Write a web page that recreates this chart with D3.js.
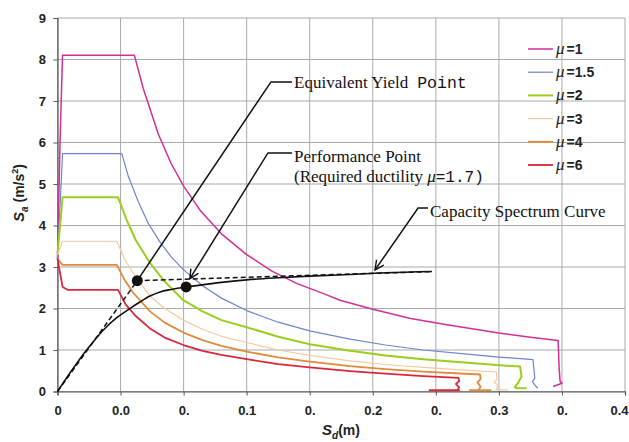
<!DOCTYPE html>
<html>
<head>
<meta charset="utf-8">
<script src="https://cdn.jsdelivr.net/npm/d3@7"></script>
<style>
body { margin: 0; background: #fff; }
svg { display: block; }
</style>
</head>
<body>
<svg id="chart" width="629" height="442"></svg>
<script>
'use strict'

// axis ticks (labels are truncated in the source figure, kept as they are)
const xTicks = [0, 0.05, 0.1, 0.15, 0.2, 0.25, 0.3, 0.35, 0.4, 0.45]
const xTickLabels = ['0', '0.0', '0.', '0.1', '0.', '0.2', '0.', '0.3', '0.', '0.4']
const yTicks = [0, 1, 2, 3, 4, 5, 6, 7, 8, 9]

// demand spectra [Sd (m), Sa (m/s2)]
const mu1 = [[0, 3.2], [0.002, 6.0], [0.004, 8.1], [0.061, 8.1], [0.068, 7.3], [0.08, 6.2], [0.09, 5.5],
    [0.1, 4.95], [0.113, 4.37], [0.13, 3.8], [0.15, 3.3], [0.17, 2.9], [0.19, 2.6], [0.21, 2.37],
    [0.224, 2.2], [0.25, 1.98], [0.28, 1.76], [0.31, 1.6], [0.35, 1.41], [0.375, 1.31], [0.397, 1.23],
    [0.3977, 0.6], [0.3985, 0.25], [0.4, 0.2], [0.393, 0.12]]
const mu15 = [[0, 3.2], [0.004, 5.73], [0.051, 5.73], [0.056, 5.2], [0.064, 4.58], [0.072, 4.05],
    [0.0813, 3.6], [0.09, 3.25], [0.1, 2.93], [0.115, 2.55], [0.13, 2.25], [0.15, 1.95], [0.175, 1.67],
    [0.2, 1.46], [0.232, 1.26], [0.26, 1.12], [0.29, 1.0], [0.325, 0.9], [0.35, 0.83], [0.377, 0.77],
    [0.3785, 0.32], [0.3765, 0.24], [0.3795, 0.12], [0.381, 0.08]]
const mu2 = [[0, 3.3], [0.004, 4.68], [0.048, 4.68], [0.0549, 4.13], [0.062, 3.65], [0.0733, 3.1],
    [0.085, 2.65], [0.0998, 2.2], [0.115, 1.93], [0.13, 1.72], [0.15, 1.55], [0.175, 1.32], [0.2, 1.14],
    [0.232, 0.98], [0.26, 0.87], [0.29, 0.78], [0.325, 0.69], [0.3668, 0.6], [0.368, 0.36],
    [0.3655, 0.22], [0.3625, 0.1], [0.364, 0.08], [0.372, 0.08]]
const mu3 = [[0, 3.29], [0.004, 3.62], [0.047, 3.62], [0.053, 3.2], [0.06, 2.85], [0.0733, 2.3],
    [0.085, 2.0], [0.0998, 1.72], [0.115, 1.5], [0.13, 1.33], [0.15, 1.18], [0.175, 1.0], [0.2, 0.87],
    [0.232, 0.74], [0.26, 0.65], [0.29, 0.58], [0.32, 0.52], [0.348, 0.47], [0.3485, 0.3],
    [0.346, 0.22], [0.3495, 0.15], [0.348, 0.06], [0.3475, 0.04], [0.357, 0.04]]
const mu4 = [[0, 3.2], [0.004, 3.05], [0.047, 3.05], [0.053, 2.7], [0.06, 2.38], [0.0733, 1.93],
    [0.085, 1.66], [0.0998, 1.42], [0.115, 1.24], [0.13, 1.1], [0.15, 0.96], [0.175, 0.82], [0.2, 0.72],
    [0.232, 0.61], [0.26, 0.54], [0.29, 0.48], [0.335, 0.41], [0.3355, 0.3], [0.333, 0.22],
    [0.3355, 0.12], [0.334, 0.04], [0.327, 0.03], [0.344, 0.03]]
const mu6 = [[0, 3.2], [0.004, 2.52], [0.008, 2.45], [0.048, 2.45], [0.054, 2.1], [0.062, 1.82],
    [0.0733, 1.52], [0.085, 1.3], [0.0998, 1.12], [0.115, 0.98], [0.13, 0.88], [0.15, 0.78],
    [0.175, 0.66], [0.2, 0.58], [0.232, 0.49], [0.26, 0.43], [0.29, 0.37], [0.318, 0.33],
    [0.3185, 0.25], [0.316, 0.18], [0.3185, 0.1], [0.317, 0.03], [0.295, 0.03], [0.319, 0.03]]

const seriesData = [mu1, mu15, mu2, mu3, mu4, mu6]
const seriesLabels = ['=1', '=1.5', '=2', '=3', '=4', '=6']
const seriesColors = ['#d12f97', '#6f84cc', '#9acd1e', '#f4c9a3', '#e08a3a', '#d8283c']
const seriesWidths = [1.5, 1.2, 2, 1.2, 1.8, 1.8]

// capacity spectrum and its bilinear idealisation
const capacity = [[0, 0], [0.01, 0.45], [0.0205, 0.9], [0.0284, 1.2], [0.036, 1.47], [0.047, 1.78],
    [0.055, 1.95], [0.065, 2.15], [0.0733, 2.3], [0.0813, 2.4], [0.09, 2.46], [0.102, 2.52],
    [0.115, 2.57], [0.13, 2.63], [0.15, 2.69], [0.175, 2.74], [0.2, 2.78], [0.232, 2.82],
    [0.26, 2.86], [0.297, 2.89]]
const bilinear = [[0, 0], [0.0633, 2.67], [0.297, 2.89]]
const yieldPoint = [0.0633, 2.67]
const perfPoint = [0.102, 2.52]

// leaders: [text anchor, elbow, tip] in data units
const leaderEyp = [[0.186, 7.46], [0.1693, 7.46], [0.065, 2.75]]
const leaderPerf = [[0.186, 5.75], [0.1669, 5.75], [0.105, 2.72]]
const leaderCap = [[0.2938, 4.42], [0.2859, 4.42], [0.2518, 2.93]]

const W = 629
const H = 442
const margin = { top: 18, right: 4, bottom: 50.5, left: 57.5 }

const svg = d3.select('#chart')

const x = d3.scaleLinear().domain([0, 0.45]).range([margin.left, W - margin.right])
const y = d3.scaleLinear().domain([0, 9]).range([H - margin.bottom, margin.top])

const sans = 'Liberation Sans, Arial, sans-serif'
const serif = 'Liberation Serif, Times New Roman, serif'
const mono = 'Liberation Mono, Courier New, monospace'

svg.append('rect').attr('width', W).attr('height', H).attr('fill', '#fff')

const defs = svg.append('defs')
defs.append('marker')
    .attr('id', 'vhead')
    .attr('markerWidth', 12)
    .attr('markerHeight', 12)
    .attr('refX', 10)
    .attr('refY', 5)
    .attr('orient', 'auto')
    .attr('markerUnits', 'userSpaceOnUse')
    .append('path')
    .attr('d', 'M 1,0.5 L 10,5 L 1,9.5')
    .attr('fill', 'none')
    .attr('stroke', '#111')
    .attr('stroke-width', 1.4)

// grid
const grid = svg.append('g')
grid.selectAll('line.v')
    .data(xTicks)
    .join('line')
    .attr('class', 'v')
    .attr('x1', d => x(d)).attr('x2', d => x(d))
    .attr('y1', y(0)).attr('y2', y(9))
    .attr('stroke', '#a9a9a9')
    .attr('stroke-width', 1)
grid.selectAll('line.h')
    .data(yTicks)
    .join('line')
    .attr('class', 'h')
    .attr('x1', x(0)).attr('x2', x(0.45))
    .attr('y1', d => y(d)).attr('y2', d => y(d))
    .attr('stroke', '#a9a9a9')
    .attr('stroke-width', 1)

// axes
const xAxis = svg.append('g')
    .attr('transform', `translate(0,${y(0)})`)
    .call(d3.axisBottom(x).tickValues(xTicks).tickSize(4).tickFormat((d, i) => xTickLabels[i]))
const yAxis = svg.append('g')
    .attr('transform', `translate(${x(0)},0)`)
    .call(d3.axisLeft(y).tickValues(yTicks).tickSize(4).tickFormat(d3.format('d')))

for (const ax of [xAxis, yAxis]) {
    ax.select('.domain').attr('stroke', '#555').attr('stroke-width', 1.2)
    ax.selectAll('.tick line').attr('stroke', '#555')
    ax.selectAll('.tick text')
        .attr('fill', '#222')
        .style('font-family', sans)
        .style('font-size', '13px')
        .style('font-weight', 'bold')
}
xAxis.selectAll('.tick text').attr('dy', '1.25em')
yAxis.selectAll('.tick text').attr('dx', '-0.35em')
// last label sits on the right edge of the figure
xAxis.selectAll('.tick text')
    .filter((d, i) => i == xTicks.length - 1)
    .attr('text-anchor', 'end')
    .attr('dx', 3)

// axis titles
const ytitle = svg.append('text')
    .attr('transform', 'translate(24,193) rotate(-90)')
    .attr('text-anchor', 'middle')
    .attr('fill', '#222')
    .style('font-family', sans)
    .style('font-weight', 'bold')
    .style('font-size', '14px')
ytitle.append('tspan').text('S').style('font-style', 'italic').style('font-size', '15px')
ytitle.append('tspan').text('a').attr('dy', 4).style('font-size', '10px').style('font-style', 'italic')
ytitle.append('tspan').text(' (m/s').attr('dy', -4)
ytitle.append('tspan').text('2').attr('dy', -6).style('font-size', '9px')
ytitle.append('tspan').text(')').attr('dy', 6)

const xtitle = svg.append('text')
    .attr('x', 341)
    .attr('y', 435)
    .attr('text-anchor', 'middle')
    .attr('fill', '#222')
    .style('font-family', sans)
    .style('font-weight', 'bold')
    .style('font-size', '14px')
xtitle.append('tspan').text('S').style('font-style', 'italic').style('font-size', '15px')
xtitle.append('tspan').text('d').attr('dy', 4).style('font-size', '10px').style('font-style', 'italic')
xtitle.append('tspan').text('(m)').attr('dy', -4)

// demand spectra
const line = d3.line().x(d => x(d[0])).y(d => y(d[1]))

svg.append('g')
    .selectAll('path')
    .data(seriesData)
    .join('path')
    .attr('d', line)
    .attr('fill', 'none')
    .attr('stroke', (d, i) => seriesColors[i])
    .attr('stroke-width', (d, i) => seriesWidths[i])
    .attr('stroke-linejoin', 'round')

// capacity curve + bilinear
svg.append('path')
    .attr('d', line(bilinear))
    .attr('fill', 'none')
    .attr('stroke', '#111')
    .attr('stroke-width', 1.5)
    .attr('stroke-dasharray', '5,3')
svg.append('path')
    .attr('d', d3.line().curve(d3.curveMonotoneX).x(d => x(d[0])).y(d => y(d[1]))(capacity))
    .attr('fill', 'none')
    .attr('stroke', '#111')
    .attr('stroke-width', 1.6)

svg.append('g')
    .selectAll('circle')
    .data([yieldPoint, perfPoint])
    .join('circle')
    .attr('cx', d => x(d[0]))
    .attr('cy', d => y(d[1]))
    .attr('r', 5.5)
    .attr('fill', '#111')

// leaders
const leaderLine = d3.line().x(d => x(d[0])).y(d => y(d[1]))
svg.append('g')
    .selectAll('path')
    .data([leaderEyp, leaderPerf, leaderCap])
    .join('path')
    .attr('d', leaderLine)
    .attr('fill', 'none')
    .attr('stroke', '#111')
    .attr('stroke-width', 1.5)
    .attr('marker-end', (d, i) => i == 0 ? null : 'url(#vhead)')

// annotation texts
const note = (anchor, dy) => svg.append('text')
    .attr('x', x(anchor[0]) + 2)
    .attr('y', y(anchor[1]) + dy)
    .attr('fill', '#111')
    .style('font-family', serif)
    .style('font-size', '17px')

const t1 = note(leaderEyp[0], 6)
t1.append('tspan').text('Equivalent Yield')
t1.append('tspan').text('Point').attr('dx', 9).style('font-family', mono).style('font-size', '16.5px')

const t2 = note(leaderPerf[0], 9)
t2.append('tspan').text('Performance Point')
const t3 = note(leaderPerf[0], 29)
t3.append('tspan').text('(Required ductility ')
t3.append('tspan').text('μ').style('font-style', 'italic')
t3.append('tspan').text('=1.7)').style('font-family', mono).style('font-size', '16px')

const t4 = note(leaderCap[0], 9)
t4.append('tspan').text('Capacity Spectrum Curve')

// legend
const legend = svg.append('g')
    .selectAll('g')
    .data(seriesLabels)
    .join('g')
    .attr('transform', (d, i) => `translate(528,${49 + i * 23.2})`)
legend.append('line')
    .attr('x1', 0).attr('x2', 25)
    .attr('stroke', (d, i) => seriesColors[i])
    .attr('stroke-width', (d, i) => seriesWidths[i])
const ltext = legend.append('text')
    .attr('x', 28)
    .attr('y', 5)
    .attr('fill', '#222')
ltext.append('tspan').text('μ')
    .style('font-family', serif)
    .style('font-style', 'italic')
    .style('font-size', '17px')
ltext.append('tspan').text(d => d)
    .attr('dx', 2)
    .style('font-family', sans)
    .style('font-weight', 'bold')
    .style('font-size', '14px')
</script>
</body>
</html>
